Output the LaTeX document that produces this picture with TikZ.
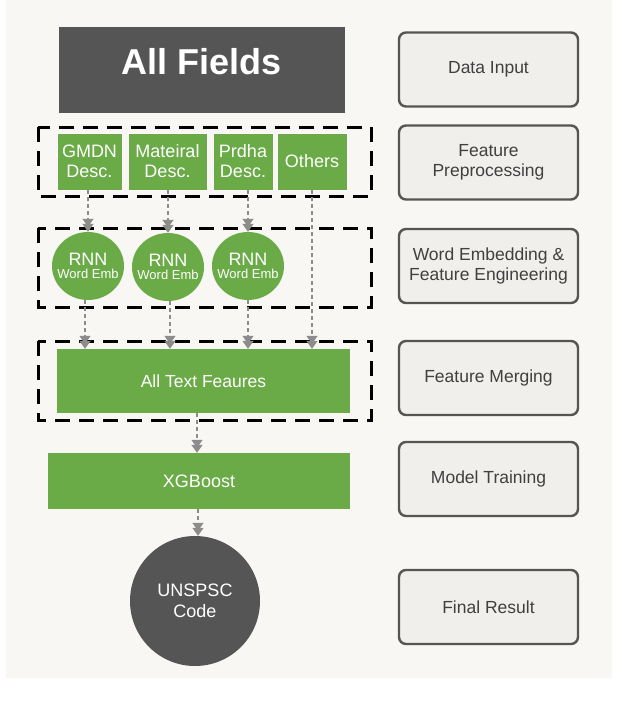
\documentclass[tikz,border=0pt]{standalone}
\usepackage{fontspec}
\setmainfont{Liberation Sans}
\usepackage{tikz}
\usetikzlibrary{positioning,arrows.meta,shapes.geometric}

\definecolor{bgcol}{HTML}{F8F7F3}
\definecolor{darkbox}{HTML}{555555}
\definecolor{leaf}{HTML}{6AAB47}
\definecolor{stagefill}{HTML}{F0EFEB}
\definecolor{stagetext}{HTML}{404040}
\definecolor{arrowgray}{HTML}{8C8C8C}

\begin{document}
\begin{tikzpicture}[
	x=1pt, y=-1pt, % pixel coordinates, y downwards
	greenbox/.style={
		fill=leaf, draw=white, line width=0.6pt,
		text=white, align=center, inner sep=0pt,
		minimum height=57pt, font=\fontsize{18}{20}\selectfont
	},
	rnnnode/.style={
		ellipse, fill=leaf, text=white, align=center, inner sep=-14pt,
		minimum width=72pt, minimum height=68pt
	},
	stage/.style={
		draw=darkbox, line width=2.4pt, rounded corners=7pt,
		fill=stagefill, text=stagetext, align=center,
		minimum width=179pt, minimum height=74pt, inner sep=2pt,
		font=\fontsize{17.5}{20}\selectfont
	},
	grpbox/.style={
		draw=black, line width=3pt, dash pattern=on 15pt off 9pt
	},
	flow/.style={
		draw=arrowgray, line width=1.6pt, dash pattern=on 4pt off 3pt,
		-{Triangle[width=11pt,length=8pt,sep=-3pt]Triangle[width=11pt,length=8pt]}
	}
	]
	% background
	\useasboundingbox (0,0) rectangle (634,702);
	\fill[white] (0,0) rectangle (634,702);
	\fill[bgcol] (6,0) rectangle (612,678);
	
	% Input
	\node[fill=darkbox, text=white, minimum width=286pt, minimum height=86pt,
		text height=30pt, text depth=22pt,
		font=\fontsize{36}{38}\selectfont\bfseries] (allfields) at (202,70) {All Fields};
	
	% Fields
	\node[greenbox, minimum width=65pt] (gmdn) at (89.5,161.5) {GMDN\\Desc.};
	\node[greenbox, minimum width=79pt] (mat) at (167.5,161.5) {Mateiral\\Desc.};
	\node[greenbox, minimum width=60pt] (prdha) at (243,161.5) {Prdha\\Desc.};
	\node[greenbox, minimum width=70pt] (others) at (312,161.5) {Others};
	
	% RNN
	\node[rnnnode] (rnn1) at (88,266) {{\fontsize{18}{19}\selectfont RNN}\\[1pt]{\fontsize{13}{14}\selectfont Word Emb}};
	\node[rnnnode] (rnn2) at (168,267) {{\fontsize{18}{19}\selectfont RNN}\\[1pt]{\fontsize{13}{14}\selectfont Word Emb}};
	\node[rnnnode] (rnn3) at (248,266) {{\fontsize{18}{19}\selectfont RNN}\\[1pt]{\fontsize{13}{14}\selectfont Word Emb}};
	
	% Merge, train, result
	\node[fill=leaf, text=white, minimum width=293pt, minimum height=64pt,
		font=\fontsize{17.5}{19}\selectfont] (txt) at (203.5,381) {All Text Feaures};
	\node[fill=leaf, text=white, minimum width=302pt, minimum height=56pt,
		font=\fontsize{18}{19}\selectfont] (xgb) at (199,481) {XGBoost};
	\node[circle, fill=darkbox, text=white, align=center, minimum size=130pt,
		font=\fontsize{18}{21}\selectfont] (code) at (195,601) {UNSPSC\\Code};
	
	% Dashed groups
	\draw[grpbox] (38,127) rectangle (371,196);
	\draw[grpbox] (38,228) rectangle (371,307);
	\draw[grpbox] (38,341) rectangle (371,420);
	
	% Stages
	\node[stage] (s1) at (488.5,69.5) {Data Input};
	\node[stage] (s2) at (488.5,162.5) {Feature\\Preprocessing};
	\node[stage] (s3) at (488.5,266) {Word Embedding \&\\Feature Engineering};
	\node[stage] (s4) at (488.5,378) {Feature Merging};
	\node[stage] (s5) at (488.5,479) {Model Training};
	\node[stage] (s6) at (488.5,607) {Final Result};
	
	% Arrows
	\draw[flow] (rnn1.north |- gmdn.south) -- (rnn1.north);
	\draw[flow] (rnn2.north |- mat.south) -- (rnn2.north);
	\draw[flow] (rnn3.north |- prdha.south) -- (rnn3.north);
	\draw[flow] (others.south) -- (others.south |- txt.north);
	\draw[flow] ([xshift=-3pt]rnn1.south) -- ([xshift=-3pt]rnn1.south |- txt.north);
	\draw[flow] ([xshift=2pt]rnn2.south) -- ([xshift=2pt]rnn2.south |- txt.north);
	\draw[flow] (rnn3.south) -- (rnn3.south |- txt.north);
	\draw[flow] ([xshift=-2pt]xgb.north |- txt.south) -- ([xshift=-2pt]xgb.north);
	\draw[flow] ([xshift=3pt]code.north |- xgb.south) -- ([xshift=3pt]code.north);
\end{tikzpicture}
\end{document}
